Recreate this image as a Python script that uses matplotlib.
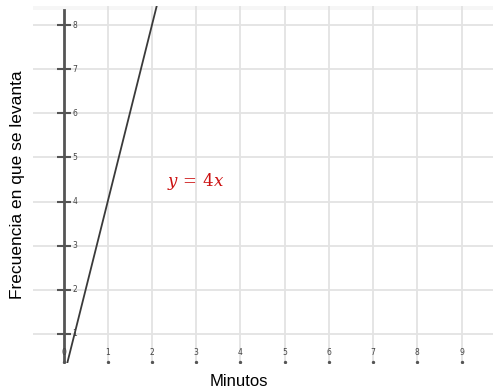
import numpy as np
import matplotlib.pyplot as plt

plt.rcParams['mathtext.fontset'] = 'dejavuserif'

# data
x_ticks = [0, 1, 2, 3, 4, 5, 6, 7, 8, 9]
y_ticks = [1, 2, 3, 4, 5, 6, 7, 8]
slope = 4
x_line = np.array([0.0, 2.5])
y_line = slope * x_line

fig = plt.figure(figsize=(4.94, 3.89), dpi=100)
ax = fig.add_axes([0.0668, 0.0668, 0.931, 0.9177])
ax.set_xlim(-0.69, 9.71)
ax.set_ylim(0.34, 8.43)

# grid
ax.set_xticks(x_ticks[1:])
ax.set_yticks(y_ticks)
ax.grid(True, color='#e3e3e3', lw=1.3, zorder=0)
ax.tick_params(length=0, labelbottom=False, labelleft=False)
for s in ax.spines.values():
    s.set_visible(False)

# light band at the top
ax.axhspan(8.34, 8.43, color='#f6f6f6', lw=0, zorder=0)

# y axis with tick dashes and labels
ax.plot([0, 0], [0.34, 8.34], color='#555555', lw=2, zorder=3)
ax.hlines(y_ticks, -0.15, 0.17, color='#555555', lw=1.5, zorder=3)
for v in y_ticks:
    ax.text(0.2, v, str(v), fontsize=5.5, color='#444444', va='center', ha='left')

# x tick labels with small dots below
for v in x_ticks:
    ax.text(v, 0.58, str(v), fontsize=5.5, color='#444444', va='center',
            ha='center', zorder=5)
ax.plot(x_ticks, [0.37] * len(x_ticks), ls='none', marker='o', ms=1.4,
        color='#555555', zorder=3)

# line y = 4x
ax.plot(x_line, y_line, color='#3a3a3a', lw=1.3, zorder=4)
ax.text(2.99, 4.46, '$y\\,=\\,4x$', fontsize=12, color='#cc1111',
        ha='center', va='center')

fig.text(18 / 494, 1 - 185 / 389, 'Frecuencia en que se levanta',
         rotation=90, fontsize=12.5, family='Liberation Sans',
         ha='center', va='center')
fig.text(239 / 494, 1 - 381 / 389, 'Minutos', fontsize=12,
         family='Liberation Sans', ha='center', va='center')

fig.savefig('out.png', dpi=100)
